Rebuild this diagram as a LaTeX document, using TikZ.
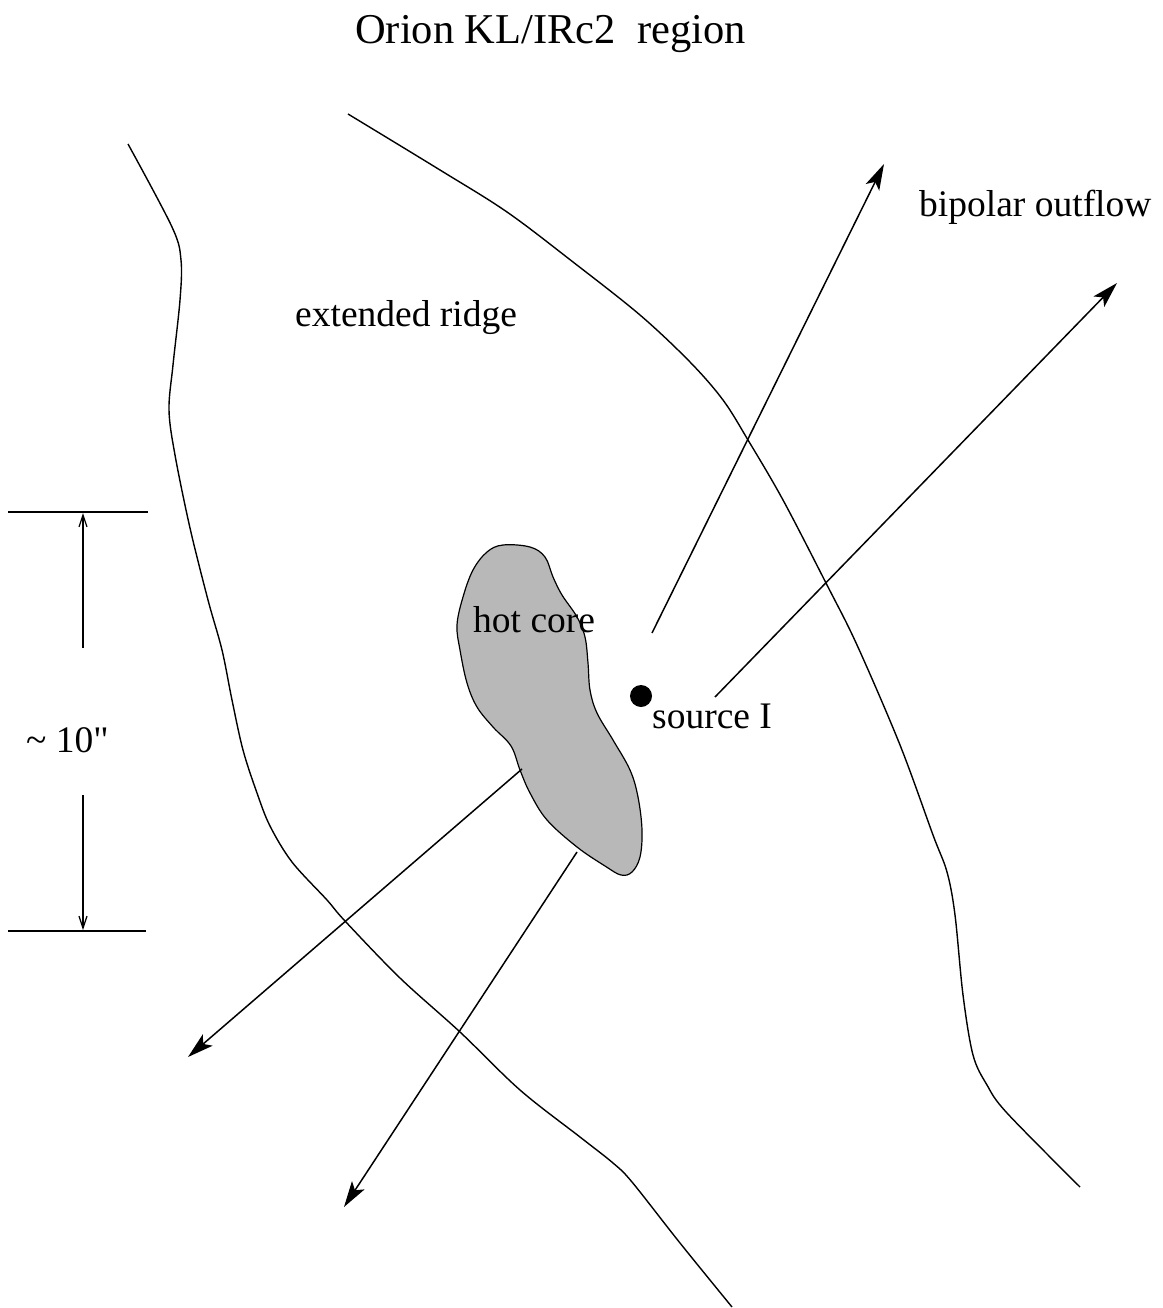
\documentclass[tikz,border=0pt]{standalone}
\usepackage{fontspec}
\setmainfont{Liberation Serif}
\newfontfamily\rawserif{Liberation Serif}
\usetikzlibrary{arrows.meta}
\begin{document}
\begin{tikzpicture}[x=1pt,y=-1pt,
  ridge/.style={line width=1.4pt},
  flow/.style={line width=1.5pt,-{Stealth[length=26pt,width=15pt,inset=6pt]}},
  scalebar/.style={line width=1.3pt},
  scalearrow/.style={line width=1.2pt,-{Straight Barb[length=12pt,width=8pt]}},
  lbl/.style={anchor=base west,inner sep=0pt,font=\fontsize{37.5}{44}\selectfont},
  ]
\useasboundingbox (0,0) rectangle (1162,1308);
% title
\node[lbl,font=\fontsize{42.5}{48}\selectfont] (title) at (355,44) {Orion KL/IRc2\ \ region};
% left ridge boundary
\draw[ridge] plot[smooth,tension=0.55] coordinates {(128,144) (172,227) (181,260) (180,300) (173,365) (169,410) (175,455) (190,528) (208,600) (222,650) (232,700) (243,750) (257,793) (270,826) (292,862) (327,900) (345,921) (400,978) (460,1032) (520,1090) (580,1137) (613,1163) (632,1182) (680,1243) (732,1307)};
% right ridge boundary
\draw[ridge] plot[smooth,tension=0.55] coordinates {(348,114) (440,170) (507,212) (573,262) (640,315) (690,362) (723,400) (748,440) (783,500) (827,585) (857,645) (900,745) (933,835) (947,872) (955,915) (963,995) (973,1055) (987,1085) (1007,1113) (1080,1187)};
% hot core
\draw[line width=1.2pt,fill=black!28] plot[smooth cycle,tension=0.6] coordinates {(503,545) (530,547) (545,557) (553,577) (562,595) (577,617) (585,637) (588,663) (590,690) (597,713) (613,740) (630,770) (638,797) (642,830) (640,857) (632,872) (621,875) (605,866) (577,847) (547,820) (530,793) (520,770) (511,746) (493,727) (477,707) (467,683) (460,650) (457,625) (463,597) (473,570) (487,552)};
\node[lbl] (hotcore) at (473,632) {hot core};
% labels
\node[lbl] (ridgelbl) at (295,326) {extended ridge};
\node[lbl] (outflowlbl) at (919,216) {bipolar outflow};
% source I
\fill (641,696) circle[radius=11] coordinate (src);
\node[lbl] (srclbl) at (652,728) {source I};
% outflow arrows
\coordinate (a1s) at (652,633); \coordinate (a1e) at (884,164);
\coordinate (a2s) at (715,697); \coordinate (a2e) at (1117,283);
\coordinate (a3s) at (522,769); \coordinate (a3e) at (188,1057);
\coordinate (a4s) at (577,852); \coordinate (a4e) at (344,1207);
\draw[flow] (a1s) -- (a1e);
\draw[flow] (a2s) -- (a2e);
\draw[flow] (a3s) -- (a3e);
\draw[flow] (a4s) -- (a4e);
% scale bar
\coordinate (t1) at (8,512); \coordinate (t2) at (148,512);
\coordinate (b1) at (8,931); \coordinate (b2) at (146,931);
\draw[scalebar] (t1) -- (t2);
\draw[scalebar] (b1) -- (b2);
\coordinate (u1) at (83,648); \coordinate (u2) at (83,513);
\coordinate (d1) at (83,795); \coordinate (d2) at (83,930);
\draw[scalearrow] (u1) -- (u2);
\draw[scalearrow] (d1) -- (d2);
\node[lbl] (scalelbl) at (26,752) {\char126\ 10{\rawserif"}};
\end{tikzpicture}
\end{document}
